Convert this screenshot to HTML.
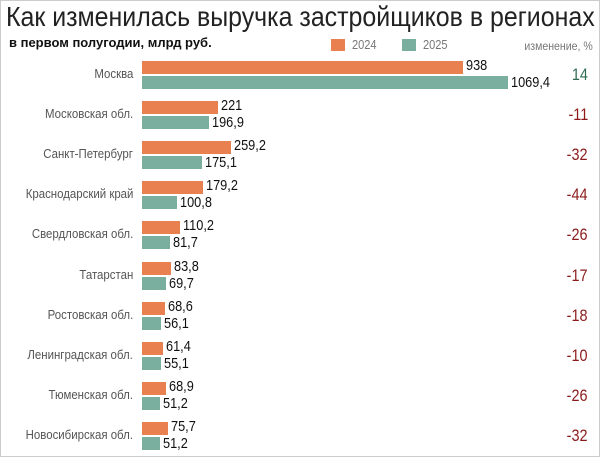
<!DOCTYPE html>
<html><head><meta charset="utf-8"><style>
body{margin:0;width:600px;height:457px;overflow:hidden;background:#fff;font-family:"Liberation Sans",sans-serif;}
.frame{position:absolute;left:0;top:0;width:598px;height:455px;border:1px solid #ccc;}
.t{position:absolute;white-space:nowrap;}
.bar{position:absolute;left:142px;height:13px;}
.o{background:#e8804f;}.g{background:#7aafa0;}
.lbl{position:absolute;right:467px;font-size:13px;color:#555;white-space:nowrap;transform:scaleX(0.88);transform-origin:right;}
.v{position:absolute;font-size:15px;color:#111;transform:scaleX(0.85);transform-origin:left;}
.c{position:absolute;right:12px;font-size:17px;transform:scaleX(0.85);transform-origin:right;}
.neg{color:#8b1a1a;}.pos{color:#2e6b50;}
</style></head><body><div class="frame"></div>
<div class="t" style="left:6px;top:1px;font-size:28px;color:#222;transform:scaleX(0.89);transform-origin:left;">Как изменилась выручка застройщиков в регионах</div>
<div class="t" style="left:9px;top:35px;font-size:13px;font-weight:bold;color:#111;">в первом полугодии, млрд руб.</div>
<div style="position:absolute;left:331px;top:39px;width:14px;height:12px;background:#e8804f"></div>
<div class="t" style="left:352px;top:37px;font-size:13px;color:#777;transform:scaleX(0.85);transform-origin:left;">2024</div>
<div style="position:absolute;left:402px;top:39px;width:14px;height:12px;background:#7aafa0"></div>
<div class="t" style="left:423px;top:37px;font-size:13px;color:#777;transform:scaleX(0.85);transform-origin:left;">2025</div>
<div class="t" style="right:7px;top:39px;font-size:12px;color:#777;transform:scaleX(0.88);transform-origin:right;">изменение, %</div>
<div id="rows"></div>
<script>
var d=[["Москва",938,1069.4,14],["Московская обл.",221,196.9,-11],["Санкт-Петербург",259.2,175.1,-32],["Краснодарский край",179.2,100.8,-44],["Свердловская обл.",110.2,81.7,-26],["Татарстан",83.8,69.7,-17],["Ростовская обл.",68.6,56.1,-18],["Ленинградская обл.",61.4,55.1,-10],["Тюменская обл.",68.9,51.2,-26],["Новосибирская обл.",75.7,51.2,-32]];
var h="",k=0.3425;
d.forEach(function(r,i){var y=61+i*40.1;var w1=r[1]*k,w2=r[2]*k;
h+='<div class="bar o" style="top:'+y+'px;width:'+w1+'px"></div>';
h+='<div class="bar g" style="top:'+(y+15)+'px;width:'+w2+'px"></div>';
h+='<div class="v" style="left:'+(145+w1)+'px;top:'+(y-4)+'px">'+String(r[1]).replace(".",",")+'</div>';
h+='<div class="v" style="left:'+(145+w2)+'px;top:'+(y+13)+'px">'+String(r[2]).replace(".",",")+'</div>';
h+='<div class="lbl" style="top:'+(y+5)+'px">'+r[0]+'</div>';
h+='<div class="c '+(r[3]>0?'pos':'neg')+'" style="top:'+(y+4)+'px">'+r[3]+'</div>';});
document.getElementById("rows").innerHTML=h;
</script>
</body></html>
